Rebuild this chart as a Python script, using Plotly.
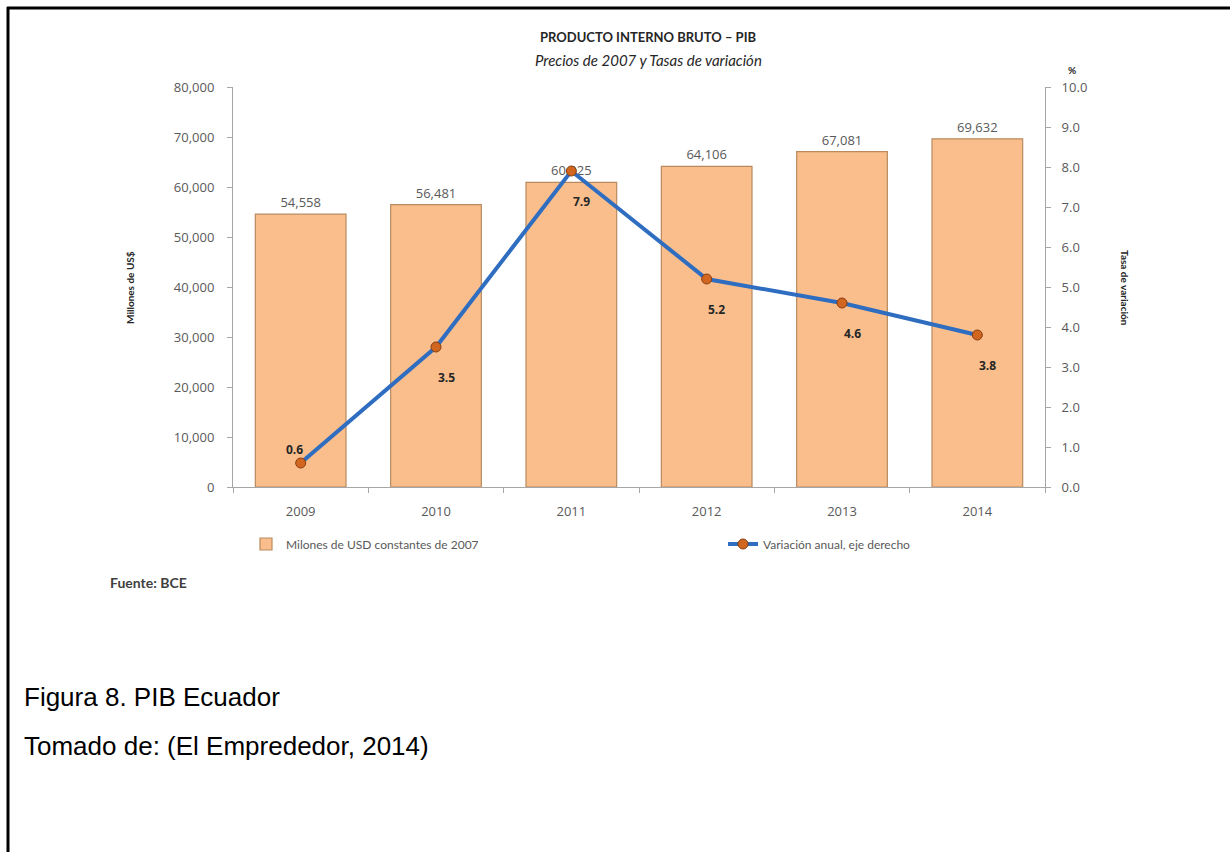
import plotly.graph_objects as go

# PIB del Ecuador, precios constantes de 2007, y su tasa de variación anual
years = ["2009", "2010", "2011", "2012", "2013", "2014"]
pib_millones = [54558, 56481, 60925, 64106, 67081, 69632]
variacion_pct = [0.6, 3.5, 7.9, 5.2, 4.6, 3.8]

left_ticks = list(range(0, 80001, 10000))
right_ticks = [i * 1.0 for i in range(0, 11)]

W, H = 1230, 852
PL, PR, PT, PB = 233, 1045, 87, 487  # plot area in pixels


def px(x):
    return (x - PL) / (PR - PL)


def py(y):
    return (PB - y) / (PB - PT)


GRAY = "#595959"
DARK = "#262626"
AXIS = "#a6a6a6"
FONT = "Lato, 'Open Sans', sans-serif"
TICKFONT = "'Open Sans', sans-serif"

fig = go.Figure()

fig.add_trace(go.Bar(
    x=years, y=pib_millones, name="Milones de USD constantes de 2007",
    marker=dict(color="#f9be8c", line=dict(color="#b98a5e", width=1.2)),
    text=[f"{v:,}" for v in pib_millones], textposition="outside",
    textfont=dict(size=13, color=GRAY, family=TICKFONT), cliponaxis=False,
    legend="legend",
))

fig.add_trace(go.Scatter(
    x=years, y=variacion_pct, yaxis="y2", name="Variación anual, eje derecho",
    mode="lines+markers",
    line=dict(color="#2f6dc0", width=4),
    marker=dict(size=10, color="#d0661f", line=dict(color="#8a3d0e", width=1)),
    legend="legend2",
))


def note(x, y, text, size, color=DARK, family=FONT, xanchor="center", angle=0):
    return dict(x=px(x), y=py(y), xref="paper", yref="paper", text=text,
                showarrow=False, xanchor=xanchor, yanchor="middle",
                textangle=angle, font=dict(size=size, color=color, family=family))


# etiquetas de la tasa de variación (x = posición de la categoría)
annotations = []
for i, v in enumerate(variacion_pct):
    if i == 0:
        xs, ys = -6, 14
    else:
        xs, ys = 10, -30
    annotations.append(dict(
        x=i, y=v, xref="x", yref="y2", text=f"<b>{v:.1f}</b>",
        showarrow=False, xshift=xs, yshift=ys,
        xanchor="center", yanchor="middle",
        font=dict(size=12, color=DARK, family=TICKFONT),
    ))

annotations += [
    note(648, 37, "<b>PRODUCTO INTERNO BRUTO – PIB</b>", 13),
    note(648, 60, "<i>Precios de 2007 y Tasas de variación</i>", 15),
    note(1072, 70, "<b>%</b>", 10),
    note(130, 288, "<b>Millones de US$</b>", 10, angle=-90),
    note(1125, 288, "<b>Tasa de variación</b>", 10, angle=90),
    note(108, 582, "<b>Fuente: BCE</b>", 14, color="#404040", xanchor="left"),
    note(22, 697, "Figura 8. PIB Ecuador", 26, color="#000000",
         family="Liberation Sans, Arial", xanchor="left"),
    note(22, 746, "Tomado de: (El Emprededor, 2014)", 26, color="#000000",
         family="Liberation Sans, Arial", xanchor="left"),
]

# marco de la figura
shapes = [
    dict(type="line", xref="paper", yref="paper",
         x0=px(8), x1=px(8), y0=py(7), y1=py(860),
         line=dict(color="#000000", width=3)),
    dict(type="line", xref="paper", yref="paper",
         x0=px(7), x1=px(1240), y0=py(8), y1=py(8),
         line=dict(color="#000000", width=3)),
]

legend_common = dict(orientation="h", xanchor="left", yanchor="middle",
                     font=dict(size=12, color=GRAY, family=FONT),
                     bgcolor="rgba(0,0,0,0)")

fig.update_layout(
    width=W, height=H,
    margin=dict(l=PL, r=W - PR, t=PT, b=H - PB),
    paper_bgcolor="white", plot_bgcolor="white",
    font=dict(family=TICKFONT, color=GRAY, size=12),
    bargap=0.33,
    showlegend=True,
    legend=dict(x=px(246), y=py(544), **legend_common),
    legend2=dict(x=px(723), y=py(544), **legend_common),
    xaxis=dict(type="category", range=[-0.5, len(years) - 0.5],
               showline=True, linecolor=AXIS, linewidth=1,
               ticks="outside", tickson="boundaries", ticklen=5, tickcolor=AXIS,
               showgrid=False, tickangle=0, ticklabelstandoff=12,
               tickfont=dict(size=13, color=GRAY)),
    yaxis=dict(range=[0, 80000], tickvals=left_ticks, tickformat=",",
               showline=True, linecolor=AXIS, ticks="outside", ticklen=5,
               tickcolor=AXIS, showgrid=False, zeroline=False,
               tickfont=dict(size=13, color=GRAY), ticklabelstandoff=10),
    yaxis2=dict(range=[0, 10], tickvals=right_ticks, tickformat=".1f",
                overlaying="y", side="right", showline=True, linecolor=AXIS,
                ticks="outside", ticklen=5, tickcolor=AXIS, showgrid=False,
                zeroline=False, tickfont=dict(size=13, color=GRAY),
                ticklabelstandoff=8),
    annotations=annotations,
    shapes=shapes,
)

fig.write_html("out.html")
